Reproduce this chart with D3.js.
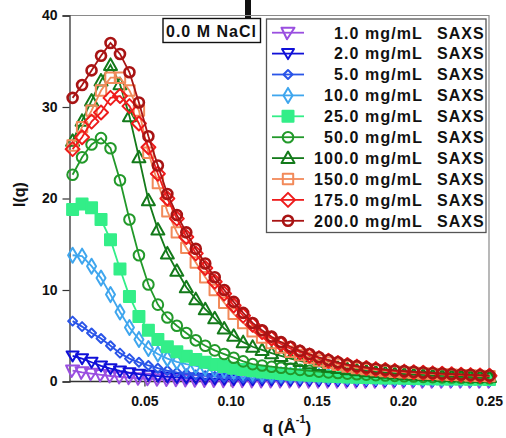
<!DOCTYPE html>
<html>
<head>
<meta charset="utf-8">
<script src="https://cdn.jsdelivr.net/npm/d3@7/dist/d3.min.js"></script>
<style>
  html, body { margin: 0; padding: 0; background: #fff; }
  svg { display: block; }
  text { font-family: "Liberation Sans", Arial, sans-serif; font-weight: bold; fill: #111; }
</style>
</head>
<body>
<svg id="chart" width="506" height="438"></svg>
<script>
// Scattering vector q (1/Å) shared by all curves
const q = [0.0083, 0.0138, 0.0193, 0.0248, 0.0303, 0.0358, 0.0413, 0.0468, 0.0523, 0.0578,
           0.0633, 0.0688, 0.0743, 0.0798, 0.0853, 0.0908, 0.0963, 0.1018, 0.1073, 0.1128,
           0.1183, 0.1238, 0.1293, 0.1348, 0.1403, 0.1458, 0.1513, 0.1568, 0.1623, 0.1678,
           0.1733, 0.1788, 0.1843, 0.1898, 0.1953, 0.2008, 0.2063, 0.2118, 0.2173, 0.2228,
           0.2283, 0.2338, 0.2393, 0.2448, 0.2503];

// I(q) per concentration
const c1 = [1.2, 1.0, 0.85, 0.72, 0.6, 0.5, 0.42, 0.35, 0.3, 0.25, 0.22, 0.19, 0.16, 0.14, 0.12,
            0.11, 0.1, 0.09, 0.08, 0.07, 0.06, 0.06, 0.05, 0.05, 0.05, 0.04, 0.04, 0.04, 0.04, 0.03,
            0.03, 0.03, 0.03, 0.03, 0.03, 0.03, 0.03, 0.03, 0.03, 0.03, 0.03, 0.03, 0.03, 0.03, 0.03];
const c2 = [2.8, 2.5, 2.1, 1.7, 1.4, 1.15, 0.95, 0.8, 0.68, 0.58, 0.5, 0.44, 0.39, 0.35, 0.31,
            0.28, 0.25, 0.23, 0.21, 0.19, 0.18, 0.17, 0.16, 0.15, 0.14, 0.13, 0.12, 0.12, 0.11, 0.11,
            0.1, 0.1, 0.1, 0.09, 0.09, 0.09, 0.08, 0.08, 0.08, 0.08, 0.07, 0.07, 0.07, 0.07, 0.07];
const c5 = [6.6, 6.0, 5.3, 4.7, 3.9, 3.1, 2.5, 2.1, 1.75, 1.45, 1.2, 1.0, 0.85, 0.72, 0.62,
            0.54, 0.47, 0.42, 0.38, 0.35, 0.32, 0.3, 0.28, 0.26, 0.25, 0.24, 0.23, 0.22, 0.21, 0.2,
            0.19, 0.18, 0.18, 0.17, 0.17, 0.16, 0.16, 0.15, 0.15, 0.15, 0.14, 0.14, 0.14, 0.13, 0.13];
const c10 = [13.8, 13.7, 12.6, 11.3, 9.5, 7.6, 5.9, 4.6, 3.6, 3.0, 2.5, 2.15, 1.9, 1.7, 1.5,
             1.35, 1.22, 1.1, 1.0, 0.92, 0.85, 0.79, 0.73, 0.68, 0.64, 0.6, 0.57, 0.54, 0.51, 0.49,
             0.47, 0.45, 0.43, 0.41, 0.4, 0.38, 0.37, 0.36, 0.35, 0.34, 0.33, 0.32, 0.31, 0.3, 0.3];
const c25 = [18.8, 19.4, 19.0, 17.7, 15.5, 12.3, 9.3, 7.1, 5.6, 4.6, 3.8, 3.25, 2.75, 2.4, 2.1,
             1.85, 1.65, 1.45, 1.3, 1.17, 1.05, 0.95, 0.87, 0.8, 0.74, 0.68, 0.63, 0.58, 0.54, 0.5,
             0.47, 0.44, 0.41, 0.39, 0.37, 0.35, 0.33, 0.31, 0.3, 0.28, 0.27, 0.26, 0.25, 0.24, 0.23];
const c50 = [22.6, 24.5, 25.9, 26.6, 25.5, 22.0, 17.7, 13.8, 10.6, 8.4, 7.0, 6.1, 5.3, 4.5, 3.9,
             3.4, 3.0, 2.6, 2.2, 1.9, 1.75, 1.62, 1.5, 1.38, 1.27, 1.17, 1.08, 1.0, 0.93, 0.86,
             0.8, 0.75, 0.7, 0.65, 0.61, 0.57, 0.54, 0.51, 0.48, 0.45, 0.43, 0.41, 0.39, 0.37, 0.35];
const c100 = [26.3, 28.5, 30.7, 32.9, 34.6, 32.5, 29.0, 24.5, 19.8, 16.6, 14.0, 12.1, 10.3, 9.0, 7.9,
              6.9, 5.8, 5.0, 4.3, 3.8, 3.45, 3.1, 2.8, 2.5, 2.25, 2.0, 1.8, 1.62, 1.47, 1.34,
              1.22, 1.12, 1.03, 0.95, 0.88, 0.82, 0.77, 0.72, 0.68, 0.64, 0.6, 0.57, 0.54, 0.51, 0.48];
const c150 = [25.8, 27.8, 29.6, 31.8, 33.2, 33.2, 31.8, 29.6, 25.0, 21.7, 18.6, 16.3, 14.6, 13.0, 11.4,
              10.0, 8.6, 7.4, 6.4, 5.5, 4.8, 4.2, 3.7, 3.25, 2.9, 2.6, 2.3, 2.05, 1.83, 1.64,
              1.48, 1.35, 1.24, 1.15, 1.07, 1.0, 0.94, 0.88, 0.83, 0.78, 0.74, 0.7, 0.66, 0.62, 0.59];
const c175 = [25.4, 26.7, 28.4, 29.4, 31.0, 31.2, 30.1, 28.2, 25.6, 22.7, 20.0, 17.8, 15.8, 14.0, 12.4,
              10.9, 9.6, 8.3, 7.2, 6.2, 5.4, 4.7, 4.1, 3.6, 3.2, 2.85, 2.55, 2.27, 2.02, 1.8,
              1.63, 1.48, 1.35, 1.25, 1.16, 1.08, 1.01, 0.95, 0.89, 0.84, 0.79, 0.74, 0.7, 0.66, 0.62];
const c200 = [31.0, 32.4, 34.0, 35.6, 37.0, 35.8, 33.8, 30.5, 26.8, 23.6, 20.5, 18.2, 16.3, 14.5, 12.9,
              11.4, 10.0, 8.7, 7.5, 6.4, 5.6, 4.9, 4.3, 3.8, 3.35, 3.0, 2.65, 2.35, 2.1, 1.85,
              1.68, 1.53, 1.4, 1.3, 1.21, 1.13, 1.06, 0.99, 0.93, 0.87, 0.82, 0.77, 0.73, 0.69, 0.65];

const concLabels = ["1.0 mg/mL", "2.0 mg/mL", "5.0 mg/mL", "10.0 mg/mL", "25.0 mg/mL",
                    "50.0 mg/mL", "100.0 mg/mL", "150.0 mg/mL", "175.0 mg/mL", "200.0 mg/mL"];
const seriesValues = [c1, c2, c5, c10, c25, c50, c100, c150, c175, c200];
const colors = ["#9a4fe0", "#1010d8", "#2a55e8", "#3fa6ee", "#33ee88",
                "#22992a", "#137a1a", "#f28a5a", "#ee1c1c", "#a81414"];
const markers = ["triDownBar", "triDown", "diamondSmall", "diamondTall", "squareFilled",
                 "circle", "triUp", "square", "diamond", "circleThick"];

const xTicks = [0.05, 0.10, 0.15, 0.20, 0.25];
const yTicks = [0, 10, 20, 30, 40];

const svg = d3.select("#chart");
const x = d3.scaleLinear().domain([0.0065, 0.25]).range([69.5, 489]);
const y = d3.scaleLinear().domain([0, 40]).range([381.5, 15.5]);

// marker path builders, centered on (0,0)
function markerPath(kind) {
  const p = d3.path();
  switch (kind) {
    case "triDownBar":
      p.moveTo(-6.5, -5); p.lineTo(6.5, -5); p.lineTo(-1, 6.5); p.closePath();
      p.moveTo(-1, 6.5); p.lineTo(6.5, -5);
      break;
    case "triDown":
      p.moveTo(-6, -4.5); p.lineTo(6, -4.5); p.lineTo(0, 5.5); p.closePath();
      break;
    case "triUp":
      p.moveTo(-6.5, 5); p.lineTo(6.5, 5); p.lineTo(0, -6.5); p.closePath();
      break;
    case "diamondSmall":
      p.moveTo(0, -4.5); p.lineTo(4.5, 0); p.lineTo(0, 4.5); p.lineTo(-4.5, 0); p.closePath();
      break;
    case "diamondTall":
      p.moveTo(0, -7.5); p.lineTo(4.5, 0); p.lineTo(0, 7.5); p.lineTo(-4.5, 0); p.closePath();
      break;
    case "diamond":
      p.moveTo(0, -7); p.lineTo(7, 0); p.lineTo(0, 7); p.lineTo(-7, 0); p.closePath();
      break;
    case "square":
      p.rect(-5.2, -5.2, 10.4, 10.4);
      break;
    case "squareFilled":
      p.rect(-5.5, -5.5, 11, 11);
      break;
    case "circle":
      p.arc(0, 0, 5.3, 0, 2 * Math.PI);
      break;
    case "circleThick":
      p.arc(0, 0, 5, 0, 2 * Math.PI);
      break;
  }
  return p.toString();
}
function markerStyle(sel, kind, color) {
  sel.attr("d", markerPath(kind))
     .attr("fill", kind === "squareFilled" ? color : "none")
     .attr("stroke", color)
     .attr("stroke-width", kind === "circleThick" ? 2.6 : 2)
     .attr("stroke-linejoin", "round");
}

// top-cropped fragment above the plot
svg.append("rect").attr("x", 245).attr("y", 0).attr("width", 6).attr("height", 18).attr("fill", "#111");

// frame (top and right)
svg.append("path")
  .attr("d", `M${x.range()[0]},${y(40)}H${x(0.25)}V${y(0)}`)
  .attr("fill", "none").attr("stroke", "#8a8a8a").attr("stroke-width", 1.2);

// axes
const yAxis = svg.append("g").attr("transform", `translate(${x.range()[0]},0)`)
  .call(d3.axisLeft(y).tickValues(yTicks).tickFormat(d3.format("d")).tickSize(7).tickPadding(5));
const xAxis = svg.append("g").attr("transform", `translate(0,${y(0)})`)
  .call(d3.axisBottom(x).tickValues(xTicks).tickFormat(d3.format(".2f")).tickSize(5).tickPadding(10));
[yAxis, xAxis].forEach(a => {
  a.select(".domain").attr("stroke", "#333").attr("stroke-width", 1.3);
  a.selectAll(".tick line").attr("stroke", "#333").attr("stroke-width", 1.2);
  a.selectAll(".tick text").style("font-size", "14px").style("font-weight", "bold")
    .attr("fill", "#111").attr("font-family", "Liberation Sans, Arial, sans-serif");
});
xAxis.select(".domain").attr("d", `M${x.range()[0]},0H${x(0.25)}`);

// data curves, drawn over the axis lines
const line = d3.line().x((d, i) => x(q[i])).y(d => y(d));
const plot = svg.append("g");
seriesValues.forEach((vals, k) => {
  const g = plot.append("g");
  g.append("path").attr("d", line(vals)).attr("fill", "none")
    .attr("stroke", colors[k]).attr("stroke-width", 1.8);
  g.selectAll("path.m").data(vals).join("path").attr("class", "m")
    .attr("transform", (d, i) => `translate(${x(q[i])},${y(d)})`)
    .call(markerStyle, markers[k], colors[k]);
});

// axis titles
svg.append("text").attr("transform", "translate(25,194.5) rotate(-90)")
  .attr("text-anchor", "middle").style("font-size", "16px").text("I(q)");
const xt = svg.append("text").attr("x", 287).attr("y", 433)
  .attr("text-anchor", "middle").style("font-size", "17px");
xt.append("tspan").text("q (Å");
xt.append("tspan").attr("dy", -10).style("font-size", "11px").text("-1");
xt.append("tspan").attr("dy", 10).text(")");

// condition label
svg.append("rect").attr("x", 163).attr("y", 18.5).attr("width", 97.5).attr("height", 24)
  .attr("fill", "#fff").attr("stroke", "#111").attr("stroke-width", 1.4);
svg.append("text").attr("x", 166).attr("y", 36.5).style("font-size", "16px")
  .style("letter-spacing", "1px").text("0.0 M NaCl");

// legend
const lg = svg.append("g");
lg.append("rect").attr("x", 266.5).attr("y", 19).attr("width", 219.5).attr("height", 213.5)
  .attr("fill", "#fff").attr("stroke", "#555").attr("stroke-width", 1.3);
concLabels.forEach((lab, k) => {
  const cy = 32.7 + 20.9 * k;
  lg.append("line").attr("x1", 272).attr("x2", 304).attr("y1", cy).attr("y2", cy)
    .attr("stroke", colors[k]).attr("stroke-width", 1.8);
  lg.append("path").attr("transform", `translate(288,${cy})`).call(markerStyle, markers[k], colors[k]);
  lg.append("text").attr("x", 423).attr("y", cy + 5.8).attr("text-anchor", "end")
    .style("font-size", "16px").style("letter-spacing", "1.1px").text(lab);
  lg.append("text").attr("x", 437).attr("y", cy + 5.8)
    .style("font-size", "16px").style("letter-spacing", "1px").text("SAXS");
});
</script>
</body>
</html>
